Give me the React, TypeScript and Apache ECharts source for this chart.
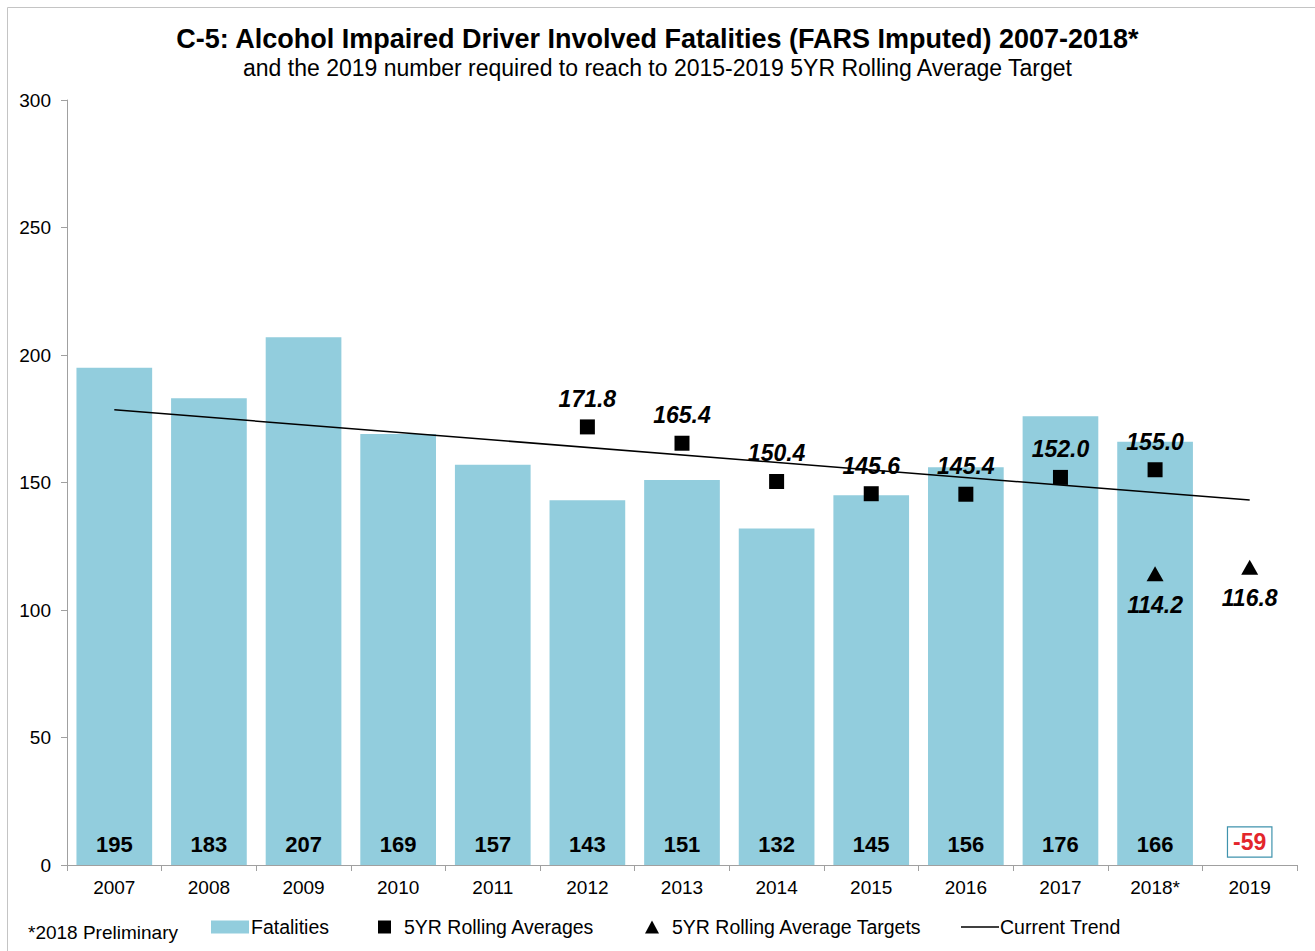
import React, { useEffect, useRef } from "react";
import * as echarts from "echarts";

const categories = ["2007", "2008", "2009", "2010", "2011", "2012", "2013", "2014", "2015", "2016", "2017", "2018*", "2019"];
const fatalities = [195, 183, 207, 169, 157, 143, 151, 132, 145, 156, 176, 166, null];
const rollingAverages = [null, null, null, null, null, 171.8, 165.4, 150.4, 145.6, 145.4, 152.0, 155.0, null];
const rollingTargets = [null, null, null, null, null, null, null, null, null, null, null, 114.2, 116.8];
const trendLine = [178.5, null, null, null, null, null, null, null, null, null, null, null, 143.1];
const required2019 = [null, null, null, null, null, null, null, null, null, null, null, null, -59];
const yTicks = { min: 0, max: 300, interval: 50 };

const FONT = "Liberation Sans, Arial, sans-serif";

export default function App() {
  const ref = useRef<HTMLDivElement>(null);
  useEffect(() => {
    if (!ref.current) return;
    const chart = echarts.init(ref.current, null, { renderer: "svg" });
    const legendText = { fontSize: 19.5, color: "#000", fontFamily: FONT };
    chart.setOption({
      animation: false,
      backgroundColor: "#ffffff",
      textStyle: { fontFamily: FONT },
      title: [
        {
          text: "C-5: Alcohol Impaired Driver Involved Fatalities (FARS Imputed) 2007-2018*",
          left: "center",
          top: 20,
          textStyle: { fontFamily: FONT, fontSize: 27, fontWeight: "bold", color: "#000" },
        },
        {
          text: "and the 2019 number required to reach to 2015-2019 5YR Rolling Average Target",
          left: "center",
          top: 51,
          textStyle: { fontFamily: FONT, fontSize: 23, fontWeight: "normal", color: "#000" },
        },
      ],
      grid: { left: 67, right: 18, top: 100, bottom: 86, containLabel: false },
      xAxis: {
        type: "category",
        data: categories,
        boundaryGap: true,
        axisLine: { show: true, lineStyle: { color: "#a0a0a0", width: 1 } },
        axisTick: { show: true, alignWithLabel: false, length: 6, lineStyle: { color: "#a0a0a0" } },
        axisLabel: { color: "#000", fontSize: 19, fontFamily: FONT, margin: 13 },
      },
      yAxis: {
        type: "value",
        min: yTicks.min,
        max: yTicks.max,
        interval: yTicks.interval,
        splitLine: { show: false },
        axisLine: { show: true, lineStyle: { color: "#a0a0a0", width: 1 } },
        axisTick: { show: true, length: 6, lineStyle: { color: "#a0a0a0" } },
        axisLabel: { color: "#000", fontSize: 19, fontFamily: FONT, margin: 16 },
      },
      legend: [
        {
          data: [{ name: "Fatalities", icon: "rect" }],
          left: 206,
          top: 912,
          itemWidth: 38,
          itemHeight: 13,
          itemGap: 4,
          textStyle: { ...legendText, padding: [0, 0, 0, -3] },
        },
        {
          data: [{ name: "5YR Rolling Averages", icon: "rect" }],
          left: 373,
          top: 912,
          itemWidth: 13,
          itemHeight: 13,
          textStyle: { ...legendText, padding: [0, 0, 0, 8] },
        },
        {
          data: [{ name: "5YR Rolling Average Targets", icon: "triangle" }],
          left: 640,
          top: 912,
          itemWidth: 14,
          itemHeight: 13,
          textStyle: { ...legendText, padding: [0, 0, 0, 8] },
        },
        {
          data: [
            {
              name: "Current Trend",
              icon: "rect",
              itemStyle: { color: "#000" },
            },
          ],
          left: 956,
          top: 912,
          itemWidth: 38,
          itemHeight: 1.5,
          textStyle: { ...legendText, padding: [0, 0, 0, -4] },
        },
      ],
      graphic: [
        {
          type: "rect",
          left: 5,
          top: 5,
          shape: { width: 1320, height: 960 },
          style: { fill: "none", stroke: "#c4c4c4", lineWidth: 1 },
          silent: true,
        },
        {
          type: "text",
          left: 28,
          top: 923,
          style: { text: "*2018 Preliminary", fontSize: 19, fill: "#000", fontFamily: FONT },
        },
      ],
      series: [
        {
          name: "Fatalities",
          type: "bar",
          data: fatalities,
          barCategoryGap: "20%",
          itemStyle: { color: "#92cddd" },
          label: {
            show: true,
            position: "insideBottom",
            distance: 10,
            color: "#000",
            fontSize: 22,
            fontWeight: "bold",
            fontFamily: FONT,
          },
          z: 1,
        },
        {
          name: "Current Trend",
          type: "line",
          data: trendLine,
          connectNulls: true,
          symbol: "none",
          lineStyle: { color: "#000", width: 1.5 },
          itemStyle: { color: "#000" },
          z: 3,
        },
        {
          name: "5YR Rolling Averages",
          type: "scatter",
          data: rollingAverages,
          symbol: "rect",
          symbolSize: 15,
          itemStyle: { color: "#000", opacity: 1 },
          label: {
            show: true,
            position: "top",
            distance: 9,
            color: "#000",
            fontSize: 23,
            fontWeight: "bold",
            fontStyle: "italic",
            fontFamily: FONT,
            formatter: (p: any) => Number(p.value).toFixed(1),
          },
          z: 4,
        },
        {
          name: "5YR Rolling Average Targets",
          type: "scatter",
          data: rollingTargets,
          symbol: "triangle",
          symbolSize: [17, 15],
          itemStyle: { color: "#000", opacity: 1 },
          label: {
            show: true,
            position: "bottom",
            distance: 12,
            color: "#000",
            fontSize: 23,
            fontWeight: "bold",
            fontStyle: "italic",
            fontFamily: FONT,
            formatter: (p: any) => Number(p.value).toFixed(1),
          },
          z: 4,
        },
        {
          name: "Required 2019",
          type: "scatter",
          data: required2019.map((v) => (v === null ? null : { value: 0, raw: v })),
          symbolSize: 1,
          itemStyle: { color: "rgba(0,0,0,0)", opacity: 1 },
          label: {
            show: true,
            position: "inside",
            offset: [0, -23],
            color: "#e3262b",
            fontSize: 23,
            fontWeight: "bold",
            fontFamily: FONT,
            backgroundColor: "#fff",
            borderColor: "#3f93ad",
            borderWidth: 1.2,
            padding: [4, 5, 2, 5],
            formatter: (p: any) => String(p.data.raw),
          },
          z: 5,
        },
      ],
    });
    return () => chart.dispose();
  }, []);
  return (
    <div
      ref={ref}
      style={{ position: "fixed", left: 0, top: 0, width: 1315, height: 951, background: "#fff" }}
    />
  );
}
